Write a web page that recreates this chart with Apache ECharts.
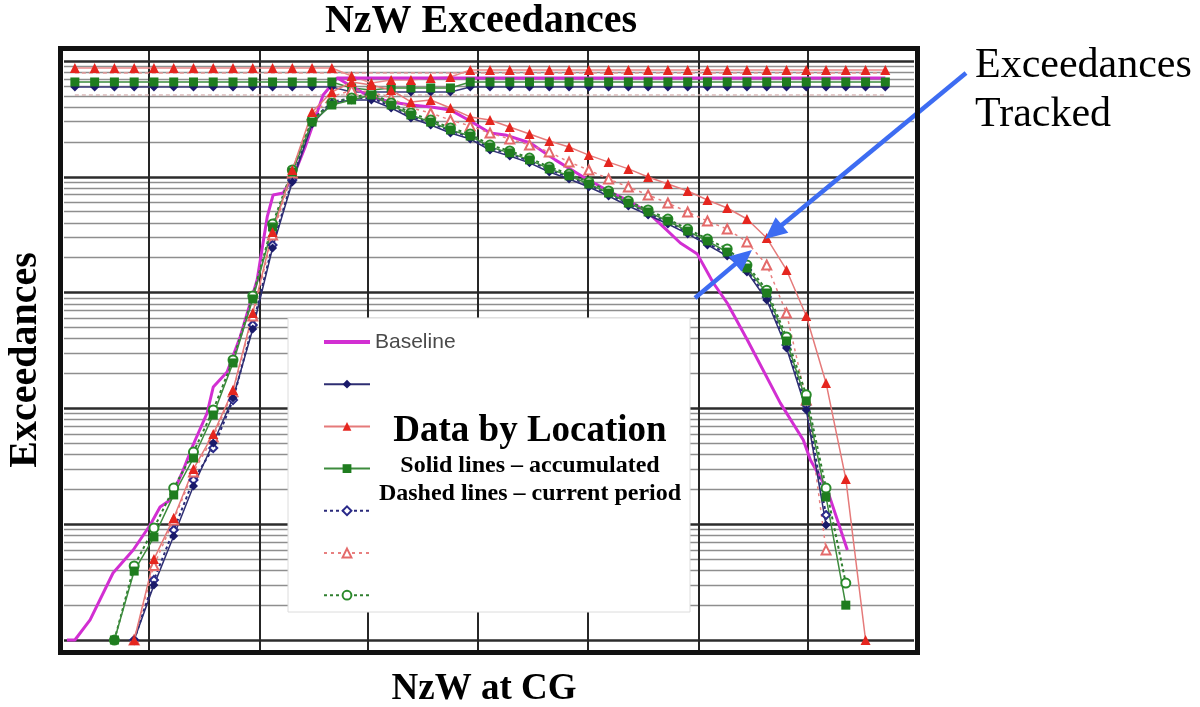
<!DOCTYPE html>
<html>
<head>
<meta charset="utf-8">
<script src="https://cdn.jsdelivr.net/npm/echarts@6/dist/echarts.min.js"></script>
<style>
html,body{margin:0;padding:0;background:#fff;}
#chart{width:1200px;height:707px;}
</style>
</head>
<body>
<div id="chart"></div>
<script>
// ---- x positions: index of the NzW bin (columns), axis ticks ----
const xMin = -0.55, xMax = 42.45;
const xMajorLines = [3.75, 9.37, 14.84, 20.4, 25.97, 31.54, 37.05];
// ---- y axis (log) ----
const yMin = 0.82, yMax = 122000;
const yMajorLines = [1, 10, 100, 1000, 10000, 100000];

// ---- series names ----
const legendNames = ['Baseline',
  'Location A – accumulated', 'Location B – accumulated', 'Location C – accumulated',
  'Location A – current period', 'Location B – current period', 'Location C – current period'];

// ---- Baseline (rising branch + flat top) ----
const baselineX = [-0.4, 0, 0.77, 1.93, 2.95, 3.81, 4.31, 4.82, 5.48, 5.98, 6.69, 7.0, 7.7, 8.36, 9.22, 9.73, 10.03, 10.53, 11.04, 11.65, 12.56, 13.27, 41.0];
const baselineY = [1, 1, 1.49, 3.79, 5.99, 9.84, 14.1, 16.2, 29.4, 48.3, 91.3, 153, 206, 414, 1285, 4500, 6970, 7250, 9960, 18100, 50900, 71300, 71300];
// ---- Baseline descending branch ----
const baselineDescX = [13.27, 14.94, 16.0, 17.01, 18.03, 18.99, 20.0, 21.01, 21.77, 23.04, 24.3, 25.72, 27.09, 27.94, 28.96, 29.77, 30.63, 31.49, 32.3, 33.0, 34.02, 35.69, 36.85, 37.21, 38.07, 39.08];
const baselineDescY = [71300, 48900, 44300, 41700, 40100, 37800, 30300, 23900, 23000, 19600, 14000, 9960, 7390, 6300, 4970, 3690, 2680, 2150, 1210, 813, 390, 111, 53.3, 35.8, 19.7, 5.99];

// ---- Location curves (first column index + values per column) ----
const navySolidStart = 3;
const navySolid = [1, 2.98, 7.91, 21.4, 50.2, 123, 485, 2430, 9020, 28600, 43400, 46100, 46100, 39300, 32200, 28000, 23900, 21200, 17000, 15100, 13200, 11000, 9570, 8170, 6830, 5600, 4680, 3910, 3210, 2580, 2070, 1510, 864, 332, 96.9, 9.84];
const redSolidStart = 3;
const redSolid = [1, 5.0, 11.3, 30, 60, 144, 666, 3340, 11450, 36300, 54000, 65900, 62000, 56200, 44300, 46000, 39300, 32900, 30900, 26900, 23400, 20400, 18100, 15400, 13400, 11700, 9960, 8670, 7540, 6300, 5380, 4320, 2960, 1570, 628, 166, 24.6, 1];
const greenSolidStart = 2;
const greenSolid = [1, 3.94, 7.75, 17.9, 37.3, 87.7, 247, 881, 3690, 11000, 29700, 41700, 46100, 50900, 41700, 34200, 29700, 25400, 22500, 18100, 16100, 14000, 11700, 10200, 8670, 7250, 5940, 4970, 4150, 3400, 2790, 2240, 1630, 992, 382, 116, 17.2, 2.0];
const navyDashStart = 3;
const navyDash = [1, 3.3, 8.91, 24.1, 45.5, 118, 525, 2580, 9390, 30900, 44300, 47900, 47900, 40900, 33500, 29200, 24900, 22100, 17700, 15700, 13700, 11450, 9960, 8500, 7110, 5820, 4870, 4070, 3340, 2680, 2150, 1570, 916, 353, 107, 12.0];
const redDashStart = 3;
const redDash = [1, 4.4, 10.9, 28.2, 56.6, 139, 628, 3140, 10800, 34200, 48900, 56200, 54000, 47900, 39300, 35600, 30900, 27500, 23900, 21200, 18800, 16400, 13400, 11450, 9570, 8170, 6970, 5940, 4970, 4150, 3540, 2740, 1730, 666, 118, 6.0];
const greenDashStart = 2;
const greenDash = [1, 4.36, 9.27, 20.5, 42.0, 96.9, 262, 934, 3910, 11450, 30900, 43400, 47900, 52900, 43400, 35600, 30900, 26400, 23400, 18800, 16700, 14500, 12150, 10570, 9020, 7540, 6180, 5170, 4320, 3540, 2900, 2380, 1730, 1050, 414, 131, 20.5, 3.1];

// ---- Top rows (totals), columns 0..41 ----
const topRed = [87000, 87000, 87000, 87000, 87000, 87000, 87000, 87000, 87000, 87000, 87000, 87000, 87000, 87000, 74200, 64600, 68500, 68500, 71300, 72800, 83600, 83600, 83600, 83600, 83600, 83600, 83600, 83600, 83600, 83600, 83600, 83600, 83600, 83600, 83600, 83600, 83600, 83600, 83600, 83600, 83600, 83600];
const topGreen = [65900, 65900, 65900, 65900, 65900, 65900, 65900, 65900, 65900, 65900, 65900, 65900, 65900, 65900, 58500, 56200, 58500, 58500, 58500, 58500, 65900, 65900, 65900, 65900, 65900, 65900, 65900, 65900, 65900, 65900, 65900, 65900, 65900, 65900, 65900, 65900, 65900, 65900, 65900, 65900, 65900, 65900];
const topNavy = [59600, 59600, 59600, 59600, 59600, 59600, 59600, 59600, 59600, 59600, 59600, 59600, 59600, 59600, 54000, 54000, 54000, 54000, 54000, 54000, 59600, 59600, 59600, 59600, 59600, 59600, 59600, 59600, 59600, 59600, 59600, 59600, 59600, 59600, 59600, 59600, 59600, 59600, 59600, 59600, 59600, 59600];
const topPink = [78800, 78800, 78800, 78800, 78800, 78800, 78800, 78800, 78800, 78800, 78800, 78800, 78800, 78800, 78800, 78800, 78800, 78800, 78800, 78800, 78800, 78800, 78800, 78800, 78800, 78800, 78800, 78800, 78800, 78800, 78800, 78800, 78800, 78800, 78800, 78800, 78800, 78800, 78800, 78800, 78800, 78800];
const topPale = [50900, 50900, 50900, 50900, 50900, 50900, 50900, 50900, 50900, 50900, 50900, 50900, 50900, 50900, 50900, 50900, 50900, 50900, 50900, 50900, 50900, 50900, 50900, 50900, 50900, 50900, 50900, 50900, 50900, 50900, 50900, 50900, 50900, 50900, 50900, 50900, 50900, 50900, 50900, 50900, 50900, 50900];

// ---- helpers ----
function seq(start, values) { return values.map((v, k) => [start + k, v]); }
function pairs(xs, ys) { return xs.map((x, k) => [x, ys[k]]); }

const minorMult = [2, 3, 4, 5, 6, 7, 8, 9];
const yMinorLines = [];
yMajorLines.slice(0, -1).forEach(m => minorMult.forEach(k => yMinorLines.push(m * k)));

const gridMarks = []
  .concat(yMinorLines.map(v => ({ yAxis: v, lineStyle: { color: '#8e8e8e', width: 1.4, type: 'solid' } })))
  .concat(yMajorLines.map(v => ({ yAxis: v, lineStyle: { color: '#2c2c2c', width: 2.5, type: 'solid' } })))
  .concat(xMajorLines.map(v => ({ xAxis: v, lineStyle: { color: '#262626', width: 2, type: 'solid' } })));

const NAVY = '#1a1a6a', RED = '#e5261f', GREEN = '#1f7d1f', MAGENTA = '#d22fd2';

function lineSeries(name, data, o) {
  return Object.assign({
    name: name, type: 'line', data: data, animation: false, silent: true,
    showSymbol: true, emphasis: { disabled: true }
  }, o);
}

const series = [
  { name: 'grid', type: 'line', data: [], silent: true, animation: false,
    markLine: { silent: true, symbol: 'none', z: 1, animation: false, label: { show: false },
      emphasis: { disabled: true }, data: gridMarks } },
  // top rows
  lineSeries('top pale', seq(0, topPale), { symbol: 'none', lineStyle: { color: '#d9b8b8', width: 1.5, type: [4, 3] } }),
  lineSeries('top navy', seq(0, topNavy), { symbol: 'diamond', symbolSize: 9, itemStyle: { color: NAVY }, lineStyle: { color: '#3a3a7a', width: 1.5 } }),
  lineSeries('top green', seq(0, topGreen), { symbol: 'rect', symbolSize: 9, itemStyle: { color: GREEN }, lineStyle: { color: '#3d8b3d', width: 1.5 } }),
  lineSeries('top pink', seq(0, topPink), { symbol: 'none', lineStyle: { color: '#e89a9a', width: 1.5, type: [4, 3] } }),
  lineSeries('top red', seq(0, topRed), { symbol: 'triangle', symbolSize: 10, itemStyle: { color: RED }, lineStyle: { color: '#ea8c8c', width: 1.5 } }),
  // baseline
  lineSeries('Baseline', pairs(baselineX, baselineY), { symbol: 'none', lineStyle: { color: MAGENTA, width: 3 }, itemStyle: { color: MAGENTA } }),
  lineSeries('Baseline descending', pairs(baselineDescX, baselineDescY), { symbol: 'none', lineStyle: { color: MAGENTA, width: 3 }, itemStyle: { color: MAGENTA } }),
  // current period (dashed)
  lineSeries(legendNames[4], seq(navyDashStart, navyDash), { symbol: 'emptyDiamond', symbolSize: 8, itemStyle: { color: '#2a2a8a', borderWidth: 1.5 }, lineStyle: { color: '#2a2a7a', width: 2, type: [3, 3] } }),
  lineSeries(legendNames[5], seq(redDashStart, redDash), { symbol: 'emptyTriangle', symbolSize: 9, itemStyle: { color: '#e46a6a', borderWidth: 1.5 }, lineStyle: { color: '#e88080', width: 1.5, type: [3, 4] } }),
  lineSeries(legendNames[6], seq(greenDashStart, greenDash), { symbol: 'emptyCircle', symbolSize: 9, itemStyle: { color: '#2a8a2a', borderWidth: 1.5 }, lineStyle: { color: '#2f7f2f', width: 2, type: [3, 3] } }),
  // accumulated (solid)
  lineSeries(legendNames[1], seq(navySolidStart, navySolid), { symbol: 'diamond', symbolSize: 9, itemStyle: { color: NAVY }, lineStyle: { color: '#2e2e72', width: 1.5 } }),
  lineSeries(legendNames[3], seq(greenSolidStart, greenSolid), { symbol: 'rect', symbolSize: 9, itemStyle: { color: GREEN }, lineStyle: { color: '#3d8b3d', width: 1.5 } }),
  lineSeries(legendNames[2], seq(redSolidStart, redSolid), { symbol: 'triangle', symbolSize: 10, itemStyle: { color: RED }, lineStyle: { color: '#e57a7a', width: 1.5 } })
];

// ---- annotation arrows (decoration) ----
function arrow(x1, y1, x2, y2, color) {
  const dx = x2 - x1, dy = y2 - y1, len = Math.hypot(dx, dy);
  const ux = dx / len, uy = dy / len, hl = 22, hw = 10;
  const bx = x2 - ux * hl, by = y2 - uy * hl;
  return [
    { type: 'line', z: 50, silent: true, shape: { x1: x1, y1: y1, x2: bx + ux * 2, y2: by + uy * 2 }, style: { stroke: color, lineWidth: 4.5 } },
    { type: 'polygon', z: 50, silent: true, shape: { points: [[x2, y2], [bx - uy * hw, by + ux * hw], [bx + uy * hw, by - ux * hw]] }, style: { fill: color } }
  ];
}
const BLUE = '#3d6cf2';

const legendData = legendNames.map(n => (n === 'Baseline'
  ? { name: n, itemStyle: { opacity: 0 }, lineStyle: { width: 4, color: MAGENTA } }
  : { name: n }));

const chart = echarts.init(document.getElementById('chart'), null, { renderer: 'canvas' });
chart.setOption({
  animation: false,
  backgroundColor: '#ffffff',
  grid: { left: 64, top: 51, width: 850, height: 599, show: false },
  xAxis: { type: 'value', min: xMin, max: xMax, show: false },
  yAxis: { type: 'log', logBase: 10, min: yMin, max: yMax, show: false },
  legend: {
    data: legendData, orient: 'vertical', left: 322, top: 331, padding: 0,
    itemWidth: 46, itemHeight: 11, itemGap: 20.2, selectedMode: false, z: 20,
    textStyle: { fontFamily: 'Liberation Sans', fontSize: 21, color: '#4a4a4a', lineHeight: 22 },
    formatter: n => (n === 'Baseline' ? n : ' ')
  },
  series: series,
  graphic: [
    { type: 'rect', z: 10, silent: true, shape: { x: 288, y: 318, width: 402, height: 294 }, style: { fill: '#ffffff', stroke: '#dcdcdc', lineWidth: 1 } },
    { type: 'rect', z: 60, silent: true, shape: { x: 60.5, y: 48.5, width: 857, height: 604 }, style: { fill: 'none', stroke: '#111', lineWidth: 5 } },
    { type: 'text', z: 30, silent: true, style: { text: 'NzW Exceedances', x: 481, y: 22, textAlign: 'center', textVerticalAlign: 'middle', font: 'bold 40px "Liberation Serif"', fill: '#000' } },
    { type: 'text', z: 30, silent: true, rotation: Math.PI / 2, x: 26, y: 360, style: { text: 'Exceedances', x: 0, y: 0, textAlign: 'center', textVerticalAlign: 'middle', font: 'bold 40px "Liberation Serif"', fill: '#000' } },
    { type: 'text', z: 30, silent: true, style: { text: 'NzW at CG', x: 484, y: 689, textAlign: 'center', textVerticalAlign: 'middle', font: 'bold 37px "Liberation Serif"', fill: '#000' } },
    { type: 'text', z: 30, silent: true, style: { text: 'Exceedances', x: 975, y: 66, textAlign: 'left', textVerticalAlign: 'middle', font: '42px "Liberation Serif"', fill: '#000' } },
    { type: 'text', z: 30, silent: true, style: { text: 'Tracked', x: 975, y: 115, textAlign: 'left', textVerticalAlign: 'middle', font: '42px "Liberation Serif"', fill: '#000' } },
    { type: 'text', z: 30, silent: true, style: { text: 'Data by Location', x: 530, y: 431, textAlign: 'center', textVerticalAlign: 'middle', font: 'bold 37px "Liberation Serif"', fill: '#000' } },
    { type: 'text', z: 30, silent: true, style: { text: 'Solid lines – accumulated', x: 530, y: 466, textAlign: 'center', textVerticalAlign: 'middle', font: 'bold 24px "Liberation Serif"', fill: '#000' } },
    { type: 'text', z: 30, silent: true, style: { text: 'Dashed lines – current period', x: 530, y: 494, textAlign: 'center', textVerticalAlign: 'middle', font: 'bold 24px "Liberation Serif"', fill: '#000' } }
  ].concat(arrow(966, 73, 765, 239, BLUE)).concat(arrow(695, 298, 752, 250, BLUE))
});
</script>
</body>
</html>
